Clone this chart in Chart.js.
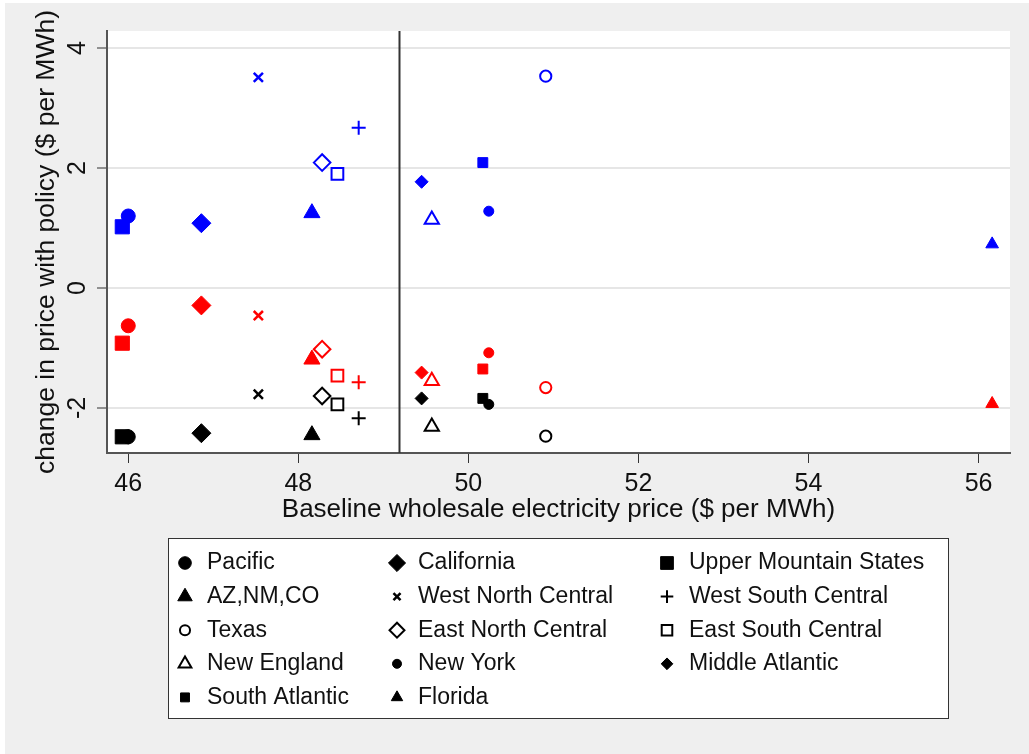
<!DOCTYPE html>
<html>
<head>
<meta charset="utf-8">
<title>Change in price with policy</title>
<script src="https://cdn.jsdelivr.net/npm/chart.js@4.4.1/dist/chart.umd.min.js"></script>
<style>
  html, body { margin: 0; padding: 0; background: #fff; }
  #wrap { width: 1029px; height: 754px; }
</style>
</head>
<body>
<div id="wrap"><canvas id="priceChart" width="1029" height="754"></canvas></div>
<script>
// regions, in legend order (row by row)
const regions = ['Pacific', 'California', 'Upper Mountain States', 'AZ,NM,CO', 'West North Central',
  'West South Central', 'Texas', 'East North Central', 'East South Central', 'New England',
  'New York', 'Middle Atlantic', 'South Atlantic', 'Florida'];
const baselinePrice = [46.0, 46.86, 45.93, 48.16, 47.53, 48.71, 50.91, 48.28, 48.46, 49.57, 50.24, 49.45, 50.17, 56.16];
// three policy cases per region (blue, red, black markers)
const changeBlue = [1.20, 1.08, 1.02, 1.25, 3.51, 2.67, 3.53, 2.09, 1.90, 1.14, 1.28, 1.77, 2.09, 0.73];
const changeRed = [-0.63, -0.29, -0.92, -1.19, -0.46, -1.57, -1.66, -1.02, -1.46, -1.55, -1.08, -1.41, -1.35, -1.93];
const changeBlack = [-2.48, -2.42, -2.48, -2.45, -1.77, -2.17, -2.47, -1.80, -1.94, -2.31, -1.94, -1.84, -1.84, null];
const xTicks = [46, 48, 50, 52, 54, 56];
const yTicks = [-2, 0, 2, 4];
const cutoffPrice = 49.19;

const caseColors = ['#0000ff', '#ff0000', '#000000'];

// marker look for each region
const markers = [
  { style: 'circle', r: 7 },
  { style: 'rectRot', r: 9.5 },
  { style: 'rect', r: 10 },
  { style: 'triangle', r: 9.3 },
  { style: 'crossRot', r: 6.5, line: 2.5 },
  { style: 'cross', r: 7, line: 2 },
  { style: 'circle', r: 5.6, hollow: true },
  { style: 'rectRot', r: 8.3, hollow: true },
  { style: 'rect', r: 8.3, hollow: true },
  { style: 'triangle', r: 8.2, hollow: true },
  { style: 'circle', r: 5 },
  { style: 'rectRot', r: 6.5 },
  { style: 'rect', r: 7 },
  { style: 'triangle', r: 7.3 }
];

Chart.defaults.font.family = "'Liberation Sans', Arial, sans-serif";
Chart.defaults.color = '#111';

const datasets = regions.map((name, i) => {
  const m = markers[i];
  const ys = [changeBlue[i], changeRed[i], changeBlack[i]];
  return {
    label: name,
    data: ys.map(y => ({ x: baselinePrice[i], y: y })),
    pointStyle: m.style,
    pointRadius: m.r,
    pointHoverRadius: m.r,
    pointBorderWidth: m.line || (m.hollow ? 2 : 1),
    pointBorderColor: caseColors,
    pointBackgroundColor: m.hollow ? '#ffffff' : caseColors,
    showLine: false
  };
});

const backgroundPlugin = {
  id: 'pageBackground',
  beforeDraw(chart) {
    const { ctx, chartArea } = chart;
    ctx.save();
    ctx.fillStyle = '#efefef';
    ctx.fillRect(5, 3, chart.width - 5, chart.height - 3);
    ctx.fillStyle = '#ffffff';
    ctx.fillRect(chartArea.left, chartArea.top, chartArea.right - chartArea.left, chartArea.bottom - chartArea.top);
    ctx.restore();
  }
};

const cutoffPlugin = {
  id: 'cutoffLine',
  beforeDatasetsDraw(chart) {
    const { ctx, chartArea } = chart;
    const x = chart.scales.x.getPixelForValue(cutoffPrice);
    ctx.save();
    ctx.strokeStyle = '#333';
    ctx.lineWidth = 2;
    ctx.beginPath();
    ctx.moveTo(x, chartArea.top);
    ctx.lineTo(x, chartArea.bottom);
    ctx.stroke();
    ctx.restore();
  }
};

const legendPlugin = {
  id: 'regionLegend',
  afterDraw(chart) {
    const ctx = chart.ctx;
    const markX = [185, 397, 667];
    const textX = [207, 418, 689];
    ctx.save();
    ctx.fillStyle = '#fff';
    ctx.fillRect(168, 538, 780, 180);
    ctx.strokeStyle = '#333';
    ctx.lineWidth = 1;
    ctx.strokeRect(168.5, 538.5, 780, 180);
    ctx.font = "23px 'Liberation Sans', Arial, sans-serif";
    ctx.textBaseline = 'middle';
    chart.data.datasets.forEach((ds, i) => {
      const m = markers[i];
      const col = i % 3;
      const y = 563 + Math.floor(i / 3) * 33.6;
      ctx.fillStyle = m.hollow ? '#fff' : '#000';
      ctx.strokeStyle = '#000';
      ctx.lineWidth = ds.pointBorderWidth;
      const r = m.style === 'crossRot' ? 5 : m.r * 0.9;
      Chart.helpers.drawPoint(ctx, { pointStyle: m.style, radius: r, borderWidth: ds.pointBorderWidth, rotation: 0 }, markX[col], y);
      ctx.fillStyle = '#111';
      ctx.fillText(ds.label, textX[col], y);
    });
    ctx.restore();
  }
};

new Chart(document.getElementById('priceChart'), {
  type: 'scatter',
  data: { datasets: datasets },
  options: {
    responsive: false,
    animation: false,
    layout: { padding: { top: 31, right: 19, bottom: 221, left: 0 } },
    plugins: {
      legend: { display: false },
      tooltip: { enabled: false }
    },
    scales: {
      x: {
        type: 'linear',
        min: 45.75,
        max: 56.37,
        afterBuildTicks: s => { s.ticks = xTicks.map(v => ({ value: v })); },
        afterFit: s => { s.height = 80; },
        grid: { drawOnChartArea: false, tickLength: 10, tickColor: '#333', tickWidth: 1 },
        border: { display: true, color: '#555', width: 2 },
        ticks: { font: { size: 25 }, padding: 6, maxRotation: 0, autoSkip: false },
        title: {
          display: true,
          text: 'Baseline wholesale electricity price ($ per MWh)',
          font: { size: 26 },
          padding: { top: 0, bottom: 8 }
        }
      },
      y: {
        type: 'linear',
        min: -2.75,
        max: 4.283,
        afterBuildTicks: s => { s.ticks = yTicks.map(v => ({ value: v })); },
        afterFit: s => { s.width = 107; },
        grid: { color: '#e6e6e6', lineWidth: 2, tickLength: 10, tickColor: '#333', tickWidth: 1 },
        border: { display: true, color: '#555', width: 2 },
        ticks: { font: { size: 25 }, padding: 8, minRotation: 90, maxRotation: 90, crossAlign: 'center' },
        title: {
          display: true,
          text: 'change in price with policy ($ per MWh)',
          font: { size: 26.5 },
          padding: { top: 31, bottom: 0 }
        }
      }
    }
  },
  plugins: [backgroundPlugin, cutoffPlugin, legendPlugin]
});
</script>
</body>
</html>
